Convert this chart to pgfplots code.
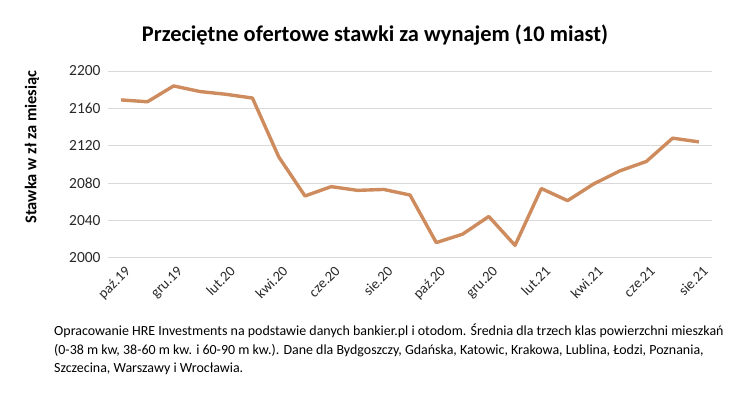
\documentclass[border=0pt]{standalone}
\usepackage{pgfplots}
\pgfplotsset{compat=1.18}
\usepackage{fontspec}
\setmainfont{Carlito}
\definecolor{linec}{RGB}{206,140,94}
\definecolor{gridc}{RGB}{217,217,217}
\definecolor{tickc}{RGB}{40,40,40}
\begin{document}
\begin{tikzpicture}[x=1bp,y=1bp]
\path[use as bounding box] (0,0) rectangle (738,-396);
\node[font=\bfseries\fontsize{22.5}{26}\selectfont] at (375,-35) {Przeciętne ofertowe stawki za wynajem (10 miast)};
\node[rotate=90, font=\bfseries\fontsize{16.5}{19}\selectfont] at (32,-147) {Stawka w zł za miesiąc};
\begin{axis}[
  at={(108bp,-257.5bp)}, anchor=south west,
  scale only axis, width=604bp, height=186.5bp,
  xmin=-0.5, xmax=22.5, ymin=2000, ymax=2200,
  ytick={2000,2040,2080,2120,2160,2200},
  xtick={0,2,4,6,8,10,12,14,16,18,20,22},
  xticklabels={paź.19,gru.19,lut.20,kwi.20,cze.20,sie.20,paź.20,gru.20,lut.21,kwi.21,cze.21,sie.21},
  axis line style={draw=none},
  ymajorgrids, grid style={gridc, line width=0.8bp},
  major tick length=0pt,
  /pgf/number format/assume math mode=true,
  /pgf/number format/set thousands separator={},
  tick label style={text=tickc},
  yticklabel style={font=\fontsize{15.5}{18}\selectfont, xshift=-4bp},
  xticklabel style={font=\fontsize{14.5}{17}\selectfont, rotate=45, anchor=north east, xshift=0bp, yshift=-4bp},
]
\addplot[linec, line width=3.4bp, line join=round] coordinates {
(0,2169) (1,2167) (2,2184) (3,2178) (4,2175) (5,2171) (6,2108) (7,2066)
(8,2076) (9,2072) (10,2073) (11,2067) (12,2016) (13,2025) (14,2044) (15,2013)
(16,2074) (17,2061) (18,2079) (19,2093) (20,2103) (21,2128) (22,2124)
};
\end{axis}
\node[anchor=north west, align=left, font=\fontsize{14}{18.5}\selectfont, inner sep=0pt] at (54,-324) {Opracowanie HRE Investments na podstawie danych bankier.pl i otodom. Średnia dla trzech klas powierzchni mieszkań\\(0-38 m kw, 38-60 m kw. i 60-90 m kw.). Dane dla Bydgoszczy, Gdańska, Katowic, Krakowa, Lublina, Łodzi, Poznania,\\Szczecina, Warszawy i Wrocławia.};
\end{tikzpicture}
\end{document}
